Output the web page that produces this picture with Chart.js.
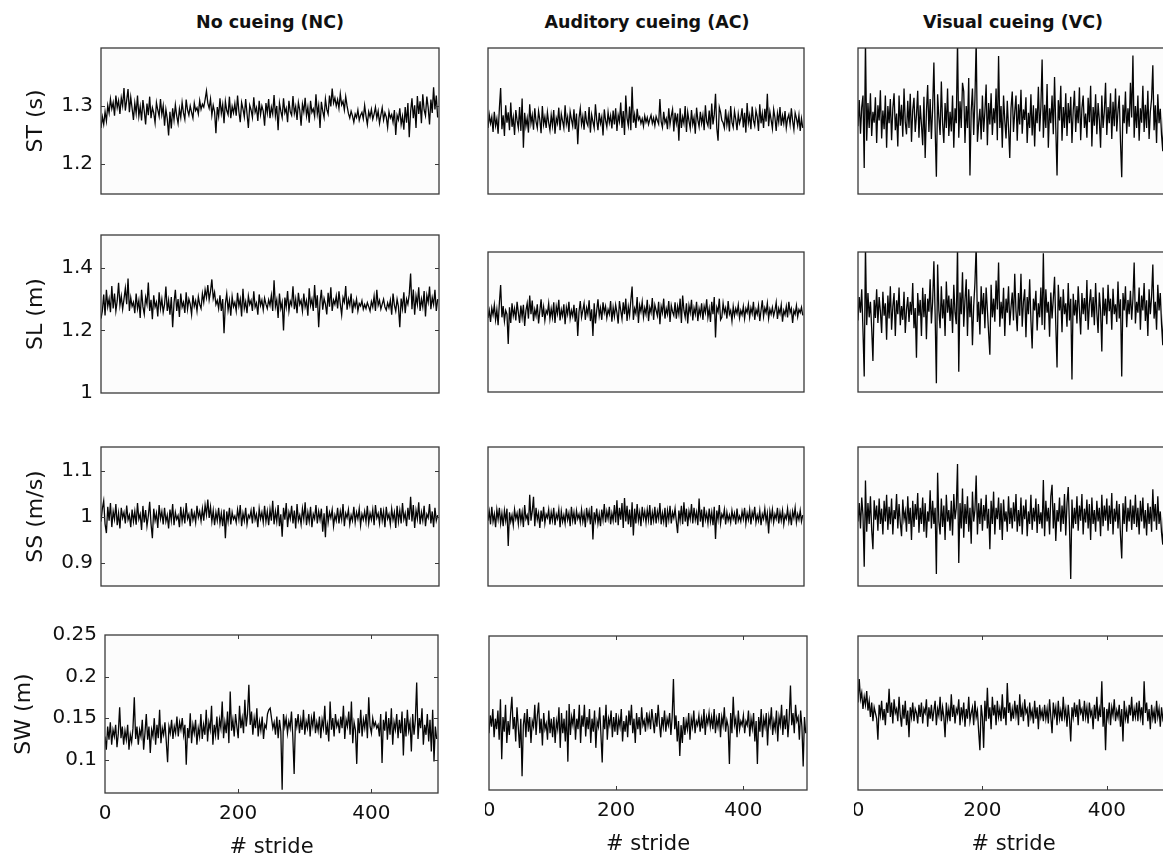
<!DOCTYPE html>
<html>
<head>
<meta charset="utf-8">
<script src="https://cdn.jsdelivr.net/npm/chart.js@4.4.1/dist/chart.umd.min.js"></script>
<style>
  html, body { margin: 0; padding: 0; background: #fff; }
  #page { position: relative; width: 1163px; height: 860px; overflow: hidden; background: #fff; }
  .col-title { position: absolute; top: 12px; line-height: 20px; transform: translateX(-50%);
    font: bold 17.5px "DejaVu Sans", sans-serif; color: #111; white-space: nowrap; }
  canvas { position: absolute; }
</style>
</head>
<body>
<div id="page">
  <div class="col-title" style="left:270px">No cueing (NC)</div>
  <div class="col-title" style="left:647px">Auditory cueing (AC)</div>
  <div class="col-title" style="left:1013px">Visual cueing (VC)</div>
</div>
<script>
'use strict';

// one value read every 2 strides
const STEP = 2;

// ---- stride time (s)
const stNC = [
1.262,1.281,1.268,1.290,1.274,1.301,1.288,1.312,1.295,1.306,1.283,1.318,1.297,1.309,1.286,1.314,1.300,1.331,1.292,1.310,1.329,1.289,1.315,1.296,1.276,
1.305,1.287,1.318,1.282,1.299,1.275,1.310,1.291,1.268,1.304,1.284,1.316,1.279,1.297,1.288,1.271,1.306,1.293,1.282,1.312,1.285,1.300,1.266,1.294,1.278,
1.249,1.290,1.261,1.296,1.276,1.302,1.283,1.270,1.295,1.280,1.306,1.288,1.277,1.311,1.293,1.284,1.300,1.289,1.279,1.305,1.292,1.297,1.286,1.309,1.294,
1.303,1.298,1.311,1.326,1.305,1.296,1.312,1.284,1.301,1.290,1.253,1.298,1.282,1.313,1.287,1.302,1.270,1.308,1.292,1.285,1.316,1.279,1.299,1.288,1.304,
1.283,1.318,1.290,1.272,1.306,1.295,1.281,1.312,1.287,1.262,1.301,1.293,1.280,1.315,1.289,1.297,1.274,1.309,1.285,1.300,1.291,1.266,1.305,1.288,1.312,
1.279,1.298,1.286,1.319,1.283,1.300,1.258,1.305,1.291,1.280,1.313,1.288,1.296,1.272,1.309,1.290,1.284,1.317,1.287,1.299,1.276,1.306,1.293,1.266,1.303,
1.290,1.314,1.283,1.298,1.271,1.309,1.289,1.295,1.282,1.320,1.286,1.301,1.262,1.307,1.291,1.280,1.312,1.294,1.286,1.318,1.299,1.330,1.305,1.314,1.300,
1.311,1.296,1.321,1.302,1.308,1.293,1.316,1.300,1.287,1.279,1.291,1.283,1.272,1.286,1.280,1.293,1.275,1.284,1.289,1.278,1.301,1.283,1.268,1.290,1.281,
1.294,1.277,1.286,1.298,1.279,1.291,1.270,1.284,1.297,1.276,1.288,1.281,1.263,1.290,1.279,1.285,1.272,1.293,1.250,1.284,1.276,1.296,1.268,1.282,1.259,
1.298,1.271,1.305,1.246,1.290,1.313,1.279,1.301,1.262,1.317,1.286,1.308,1.270,1.320,1.293,1.283,1.316,1.297,1.268,1.311,1.288,1.332,1.294,1.318,1.280
];
const stAC = [
1.262,1.285,1.270,1.281,1.255,1.290,1.266,1.278,1.252,1.296,1.331,1.260,1.284,1.248,1.301,1.271,1.289,1.258,1.306,1.264,1.280,1.250,1.293,1.275,1.262,
1.298,1.257,1.313,1.228,1.288,1.265,1.279,1.254,1.303,1.270,1.284,1.259,1.296,1.273,1.262,1.291,1.276,1.253,1.300,1.268,1.281,1.262,1.289,1.271,1.258,
1.284,1.266,1.293,1.252,1.279,1.270,1.297,1.258,1.286,1.274,1.262,1.301,1.269,1.281,1.255,1.290,1.277,1.265,1.294,1.260,1.287,1.234,1.279,1.296,1.268,
1.282,1.259,1.291,1.272,1.266,1.298,1.254,1.285,1.273,1.262,1.303,1.276,1.258,1.288,1.270,1.281,1.249,1.294,1.275,1.264,1.289,1.271,1.283,1.261,1.292,
1.268,1.296,1.257,1.284,1.273,1.306,1.262,1.291,1.250,1.318,1.279,1.266,1.299,1.258,1.333,1.271,1.285,1.262,1.295,1.276,1.281,1.270,1.278,1.265,1.283,
1.272,1.280,1.268,1.277,1.284,1.270,1.279,1.266,1.282,1.275,1.269,1.312,1.273,1.263,1.290,1.271,1.278,1.260,1.296,1.268,1.283,1.294,1.256,1.288,1.270,
1.287,1.240,1.296,1.262,1.281,1.270,1.300,1.255,1.289,1.274,1.261,1.293,1.268,1.280,1.252,1.297,1.276,1.264,1.290,1.270,1.284,1.258,1.301,1.273,1.266,
1.292,1.260,1.304,1.268,1.285,1.321,1.262,1.240,1.298,1.289,1.275,1.271,1.262,1.294,1.267,1.283,1.256,1.300,1.272,1.263,1.291,1.277,1.258,1.286,1.270,
1.279,1.296,1.263,1.288,1.254,1.305,1.271,1.284,1.260,1.299,1.275,1.266,1.292,1.281,1.257,1.303,1.270,1.287,1.262,1.295,1.273,1.321,1.265,1.290,1.276,
1.261,1.294,1.280,1.257,1.287,1.272,1.298,1.266,1.283,1.270,1.291,1.262,1.278,1.285,1.268,1.296,1.274,1.259,1.288,1.279,1.266,1.284,1.257,1.278,1.262
];
const stVC = [
1.265,1.310,1.252,1.298,1.318,1.193,1.412,1.240,1.305,1.262,1.322,1.248,1.290,1.271,1.315,1.236,1.301,1.275,1.327,1.244,1.292,1.260,1.318,1.228,1.300,
1.270,1.312,1.241,1.296,1.322,1.258,1.287,1.230,1.318,1.266,1.302,1.247,1.330,1.272,1.251,1.309,1.262,1.321,1.238,1.293,1.314,1.255,1.284,1.326,1.245,
1.301,1.268,1.232,1.316,1.210,1.290,1.336,1.255,1.312,1.243,1.296,1.375,1.262,1.178,1.320,1.281,1.250,1.342,1.270,1.236,1.305,1.262,1.330,1.248,1.290,
1.256,1.318,1.228,1.296,1.270,1.412,1.245,1.308,1.262,1.340,1.325,1.236,1.300,1.262,1.348,1.180,1.291,1.330,1.250,1.312,1.412,1.238,1.270,1.295,1.242,
1.318,1.255,1.290,1.337,1.232,1.305,1.268,1.322,1.250,1.296,1.270,1.330,1.241,1.386,1.262,1.300,1.228,1.318,1.275,1.244,1.309,1.262,1.210,1.296,1.325,
1.255,1.290,1.318,1.240,1.303,1.268,1.328,1.252,1.294,1.276,1.315,1.236,1.288,1.262,1.320,1.249,1.301,1.230,1.296,1.270,1.333,1.256,1.298,1.380,1.245,
1.302,1.262,1.338,1.228,1.296,1.270,1.318,1.251,1.350,1.262,1.180,1.310,1.275,1.335,1.240,1.298,1.262,1.322,1.248,1.305,1.270,1.316,1.236,1.292,1.326,
1.255,1.300,1.270,1.332,1.241,1.296,1.318,1.262,1.287,1.245,1.314,1.272,1.335,1.230,1.298,1.266,1.320,1.251,1.305,1.276,1.228,1.318,1.262,1.290,1.340,
1.250,1.298,1.270,1.322,1.243,1.307,1.265,1.330,1.256,1.292,1.318,1.238,1.177,1.302,1.270,1.325,1.252,1.296,1.264,1.340,1.280,1.387,1.245,1.300,1.262,
1.318,1.240,1.296,1.271,1.335,1.255,1.302,1.262,1.326,1.243,1.290,1.312,1.370,1.258,1.301,1.236,1.320,1.270,1.295,1.250,1.222,1.308,1.262,1.285,1.300
];

// ---- stride length (m)
const slNC = [
1.238,1.262,1.315,1.248,1.330,1.276,1.301,1.258,1.342,1.270,1.318,1.262,1.295,1.352,1.280,1.310,1.268,1.300,1.335,1.284,1.366,1.262,1.305,1.277,1.290,
1.255,1.318,1.270,1.296,1.240,1.330,1.276,1.252,1.306,1.284,1.353,1.262,1.298,1.236,1.312,1.275,1.290,1.245,1.322,1.270,1.300,1.258,1.283,1.340,1.262,
1.296,1.250,1.307,1.210,1.288,1.330,1.262,1.300,1.243,1.318,1.275,1.290,1.256,1.322,1.268,1.300,1.284,1.251,1.312,1.277,1.295,1.262,1.308,1.283,1.270,
1.318,1.290,1.330,1.305,1.345,1.298,1.325,1.363,1.302,1.322,1.283,1.296,1.270,1.312,1.262,1.300,1.191,1.286,1.318,1.265,1.295,1.247,1.308,1.276,1.290,
1.262,1.320,1.278,1.300,1.245,1.333,1.270,1.292,1.255,1.310,1.283,1.296,1.262,1.325,1.275,1.288,1.250,1.315,1.280,1.297,1.266,1.303,1.284,1.270,1.298,
1.280,1.312,1.262,1.360,1.276,1.298,1.240,1.318,1.270,1.290,1.200,1.305,1.275,1.326,1.262,1.294,1.281,1.341,1.268,1.300,1.255,1.320,1.283,1.296,1.262,
1.318,1.275,1.295,1.247,1.335,1.280,1.300,1.262,1.345,1.272,1.312,1.210,1.290,1.330,1.266,1.302,1.284,1.251,1.320,1.276,1.338,1.262,1.297,1.283,1.310,
1.270,1.325,1.284,1.250,1.305,1.290,1.342,1.266,1.300,1.280,1.318,1.255,1.292,1.275,1.300,1.262,1.286,1.278,1.295,1.268,1.283,1.270,1.289,1.276,1.262,
1.292,1.275,1.310,1.262,1.330,1.280,1.296,1.268,1.284,1.300,1.275,1.265,1.288,1.272,1.296,1.250,1.318,1.281,1.262,1.300,1.276,1.210,1.302,1.270,1.322,
1.255,1.300,1.284,1.316,1.382,1.268,1.331,1.250,1.310,1.283,1.338,1.262,1.300,1.275,1.326,1.245,1.312,1.290,1.340,1.268,1.305,1.283,1.330,1.262,1.300
];
const slAC = [
1.238,1.262,1.225,1.270,1.248,1.280,1.232,1.265,1.215,1.286,1.344,1.240,1.276,1.228,1.262,1.250,1.154,1.272,1.222,1.285,1.245,1.268,1.230,1.290,1.255,
1.222,1.278,1.240,1.280,1.212,1.262,1.285,1.236,1.310,1.250,1.294,1.228,1.265,1.245,1.282,1.220,1.260,1.298,1.241,1.273,1.230,1.262,1.252,1.285,1.235,
1.268,1.240,1.288,1.222,1.275,1.252,1.296,1.230,1.265,1.245,1.282,1.218,1.272,1.250,1.290,1.236,1.262,1.244,1.280,1.226,1.270,1.180,1.258,1.292,1.240,
1.262,1.285,1.232,1.270,1.250,1.295,1.228,1.266,1.180,1.285,1.220,1.262,1.298,1.245,1.270,1.232,1.288,1.255,1.275,1.238,1.265,1.250,1.292,1.226,1.272,
1.243,1.280,1.255,1.220,1.292,1.262,1.235,1.288,1.250,1.300,1.228,1.274,1.246,1.295,1.339,1.232,1.268,1.252,1.305,1.222,1.278,1.258,1.290,1.240,1.270,
1.250,1.296,1.228,1.272,1.255,1.302,1.232,1.280,1.262,1.245,1.290,1.218,1.275,1.255,1.300,1.236,1.268,1.250,1.292,1.225,1.278,1.258,1.246,1.288,1.236,
1.275,1.250,1.300,1.222,1.310,1.262,1.240,1.285,1.220,1.278,1.255,1.296,1.230,1.270,1.250,1.290,1.228,1.268,1.248,1.285,1.232,1.275,1.255,1.298,1.240,
1.268,1.225,1.290,1.250,1.305,1.175,1.272,1.258,1.300,1.232,1.240,1.285,1.255,1.270,1.236,1.292,1.250,1.262,1.228,1.275,1.245,1.268,1.252,1.280,1.238,
1.262,1.248,1.275,1.236,1.268,1.255,1.282,1.240,1.270,1.252,1.290,1.232,1.265,1.250,1.278,1.228,1.262,1.295,1.242,1.270,1.255,1.285,1.236,1.266,1.250,
1.272,1.245,1.262,1.288,1.235,1.268,1.252,1.280,1.226,1.262,1.248,1.275,1.240,1.290,1.255,1.268,1.222,1.262,1.250,1.278,1.242,1.265,1.255,1.272,1.246
];
const slVC = [
1.230,1.305,1.255,1.330,1.198,1.050,1.470,1.215,1.318,1.240,1.290,1.205,1.100,1.296,1.238,1.330,1.222,1.305,1.260,1.190,1.322,1.245,1.285,1.168,1.310,
1.236,1.340,1.200,1.275,1.318,1.180,1.295,1.250,1.336,1.215,1.276,1.232,1.322,1.190,1.265,1.305,1.225,1.290,1.248,1.350,1.205,1.270,1.110,1.318,1.245,
1.296,1.180,1.335,1.240,1.315,1.170,1.300,1.258,1.362,1.220,1.290,1.420,1.250,1.028,1.410,1.262,1.205,1.340,1.236,1.298,1.180,1.355,1.255,1.310,1.228,
1.300,1.190,1.345,1.255,1.218,1.470,1.065,1.320,1.250,1.385,1.210,1.296,1.362,1.180,1.330,1.240,1.308,1.150,1.276,1.350,1.470,1.225,1.290,1.185,1.340,
1.250,1.318,1.205,1.336,1.265,1.190,1.120,1.345,1.240,1.300,1.226,1.358,1.265,1.416,1.210,1.290,1.236,1.335,1.180,1.300,1.255,1.340,1.215,1.272,1.320,
1.230,1.380,1.260,1.195,1.318,1.245,1.380,1.210,1.290,1.330,1.176,1.305,1.250,1.362,1.230,1.140,1.300,1.262,1.325,1.198,1.285,1.240,1.336,1.215,1.446,
1.200,1.330,1.255,1.290,1.178,1.320,1.236,1.300,1.370,1.215,1.079,1.345,1.262,1.306,1.192,1.330,1.250,1.285,1.210,1.350,1.230,1.300,1.040,1.316,1.246,
1.296,1.220,1.340,1.262,1.185,1.318,1.250,1.302,1.228,1.360,1.200,1.282,1.330,1.240,1.305,1.215,1.350,1.255,1.190,1.320,1.262,1.130,1.336,1.245,1.300,
1.218,1.345,1.260,1.300,1.200,1.332,1.250,1.282,1.225,1.355,1.236,1.298,1.050,1.318,1.262,1.340,1.208,1.296,1.250,1.325,1.232,1.300,1.416,1.220,1.290,
1.255,1.336,1.200,1.310,1.262,1.350,1.228,1.295,1.180,1.330,1.250,1.306,1.410,1.236,1.290,1.200,1.345,1.262,1.318,1.218,1.150,1.300,1.250,1.330,1.240
];

// ---- stride speed (m/s)
const ssNC = [
0.990,1.018,1.035,0.985,0.965,1.022,0.992,1.030,0.978,1.012,0.995,1.028,0.982,1.008,0.975,1.020,0.998,1.010,0.986,1.025,0.994,1.004,0.978,1.016,0.990,
1.012,0.983,1.030,0.995,1.006,0.972,1.024,0.988,1.015,0.980,1.002,1.033,0.985,0.954,1.018,0.992,1.008,0.976,1.026,0.996,1.012,0.984,1.020,0.990,1.004,
0.975,1.016,0.992,1.028,0.982,1.010,0.995,1.003,0.978,1.022,0.990,1.012,0.986,1.030,0.996,1.006,0.980,1.018,0.994,1.008,0.988,1.024,0.999,1.012,0.991,
1.018,0.992,1.026,1.005,1.038,0.998,1.022,0.990,1.014,0.982,1.010,0.992,1.020,0.986,1.008,0.980,1.016,0.954,1.012,0.990,1.020,0.984,1.010,0.995,1.002,
0.988,1.016,0.995,1.026,0.980,1.008,0.992,1.020,0.984,1.004,0.998,1.014,0.986,1.022,0.994,1.006,0.978,1.018,0.996,1.010,0.988,1.024,0.990,1.012,0.982,
1.016,0.992,1.035,0.984,1.012,0.990,1.026,0.980,1.006,0.957,1.020,0.994,1.030,0.978,1.010,0.996,1.024,0.986,1.014,0.975,1.028,0.992,1.004,0.984,1.018,
0.995,1.032,0.982,1.010,0.990,1.022,0.978,1.006,0.996,1.026,0.986,1.012,0.994,1.018,0.968,1.008,0.956,1.024,0.988,1.010,0.998,1.016,0.980,1.004,0.992,
1.020,0.986,1.012,0.994,1.028,0.980,1.008,0.998,1.016,0.984,1.004,0.992,1.022,0.988,1.010,0.996,1.018,0.982,1.006,0.994,1.012,0.990,1.024,0.986,1.008,
0.994,1.016,0.982,1.026,0.998,1.008,0.986,1.020,0.992,1.012,0.978,1.022,0.996,1.006,0.984,1.018,0.994,1.010,0.976,1.024,0.990,1.014,0.986,1.030,0.995,
1.008,0.980,1.020,0.994,1.044,0.990,1.026,0.976,1.014,0.996,1.032,0.984,1.010,0.992,1.024,0.980,1.006,0.998,1.028,0.986,1.012,0.978,1.020,0.992,1.004
];
const ssAC = [
0.992,1.012,0.984,1.022,0.990,1.006,0.978,1.016,0.995,1.020,0.986,1.008,0.980,1.014,0.992,1.018,0.937,1.010,0.990,1.004,0.982,1.016,0.996,1.008,0.985,
1.018,0.990,1.010,0.978,1.026,0.996,1.004,0.982,1.048,0.992,1.012,1.044,0.980,1.020,0.994,1.008,0.976,1.014,0.990,1.022,0.986,1.006,0.998,1.016,0.984,
1.010,0.992,1.020,0.982,1.006,0.996,1.016,0.978,1.012,0.990,1.004,0.986,1.018,0.994,1.008,0.980,1.022,0.992,1.010,0.984,1.014,0.996,1.006,0.988,1.016,
0.990,1.008,0.978,1.020,0.996,1.012,0.984,1.024,0.951,1.010,0.992,1.018,0.986,1.006,0.980,1.016,0.994,1.028,0.988,1.012,0.996,1.022,0.984,1.008,0.992,
1.026,0.988,1.036,0.982,1.020,0.994,1.030,0.976,1.041,0.990,1.024,0.984,1.016,0.978,1.032,0.960,1.018,0.986,1.028,0.992,1.010,0.980,1.022,0.996,1.012,
0.988,1.016,0.994,1.026,0.982,1.010,0.992,1.022,0.986,1.012,0.996,1.030,0.984,1.008,0.990,1.020,0.978,1.014,0.994,1.024,0.986,1.010,0.998,1.018,0.990,
0.965,1.014,0.992,1.024,0.984,1.032,0.990,1.018,0.980,1.012,0.996,1.028,0.986,1.020,0.994,1.010,0.982,1.040,0.990,1.016,0.978,1.022,0.994,1.008,0.986,
1.018,0.990,1.010,0.982,1.022,0.952,1.014,0.994,1.026,0.986,1.006,0.998,1.016,0.984,1.010,0.992,1.004,0.988,1.014,0.996,1.008,0.984,1.018,0.992,1.002,
0.990,1.012,0.996,1.020,0.986,1.008,0.994,1.016,0.984,1.010,0.998,1.022,0.988,1.004,0.992,1.014,0.982,1.006,0.996,1.018,0.990,1.008,0.964,1.012,0.994,
1.016,0.988,1.006,0.996,1.020,0.986,1.010,0.992,1.014,0.984,1.004,0.996,1.018,0.990,1.008,0.982,1.012,0.998,1.020,0.988,1.006,0.994,1.014,0.990,1.004
];
const ssVC = [
0.990,1.030,0.975,1.042,1.005,0.892,1.079,0.968,1.030,0.985,1.045,0.972,0.930,1.036,0.994,1.025,0.970,1.040,0.985,1.018,0.962,1.035,0.990,1.048,0.972,
1.022,0.984,1.040,0.962,1.015,0.995,1.050,0.975,1.028,0.988,0.958,1.038,0.995,1.012,0.968,1.045,0.985,1.020,0.950,1.035,0.978,1.028,0.994,1.052,0.966,
1.020,0.985,1.042,0.968,1.030,0.955,1.012,0.990,1.058,0.975,1.035,0.985,1.020,0.876,1.096,0.990,0.962,1.040,0.978,1.025,0.950,1.048,0.990,1.015,0.970,
1.035,0.960,1.050,0.995,1.020,1.115,0.900,1.030,0.975,1.062,0.955,1.028,0.985,1.045,0.968,1.020,0.942,1.055,0.990,1.015,1.090,0.962,1.030,0.985,1.040,
0.970,1.026,0.992,1.048,0.975,1.018,0.930,1.035,0.985,1.055,0.962,1.020,0.995,1.042,0.972,1.030,0.950,1.038,0.990,1.012,0.968,1.045,0.985,1.020,0.975,
1.032,0.990,1.050,0.968,1.015,0.980,1.042,0.962,1.025,0.995,1.038,0.958,1.012,0.985,1.048,0.972,1.020,0.990,1.040,0.965,1.028,0.985,1.010,0.975,1.080,
0.958,1.035,0.990,1.020,0.962,1.045,1.070,0.975,1.030,0.948,1.015,0.990,1.042,0.968,1.025,0.985,1.050,0.960,1.030,1.065,0.980,0.865,1.038,0.975,1.020,
0.985,1.045,0.970,1.025,0.992,1.050,0.962,1.018,0.988,1.038,0.975,1.028,0.950,1.042,0.985,1.015,0.968,1.035,0.990,1.020,0.958,1.048,0.980,1.025,0.992,
1.040,0.970,1.025,0.985,1.052,0.962,1.018,0.990,1.035,0.975,1.028,0.960,0.910,1.030,0.985,1.045,0.968,1.020,0.990,1.038,0.972,1.025,0.985,1.048,0.978,
1.020,0.962,1.035,0.990,1.042,0.975,1.015,0.960,1.030,0.985,1.022,0.968,1.060,0.990,1.028,0.972,1.045,0.985,1.012,0.966,0.940,1.030,0.990,1.042,1.000
];

// ---- stride width (m)
const swNC = [
0.128,0.112,0.140,0.124,0.145,0.118,0.136,0.128,0.142,0.115,0.132,0.163,0.126,0.140,0.118,0.135,0.124,0.142,0.112,0.130,0.121,0.138,0.175,0.125,0.140,
0.118,0.136,0.128,0.148,0.112,0.132,0.155,0.124,0.140,0.108,0.136,0.128,0.150,0.118,0.142,0.126,0.160,0.120,0.138,0.130,0.145,0.122,0.097,0.140,0.132,
0.148,0.125,0.140,0.132,0.152,0.128,0.145,0.136,0.150,0.130,0.142,0.094,0.138,0.126,0.156,0.120,0.142,0.132,0.148,0.118,0.138,0.128,0.155,0.125,0.142,
0.130,0.160,0.122,0.145,0.136,0.165,0.118,0.142,0.130,0.152,0.124,0.148,0.138,0.170,0.126,0.145,0.132,0.158,0.120,0.182,0.135,0.148,0.128,0.155,0.140,
0.126,0.165,0.138,0.150,0.132,0.172,0.140,0.155,0.190,0.142,0.158,0.130,0.150,0.138,0.162,0.128,0.146,0.135,0.152,0.125,0.142,0.138,0.155,0.160,0.162,
0.150,0.138,0.145,0.130,0.152,0.126,0.148,0.134,0.064,0.155,0.140,0.150,0.132,0.146,0.138,0.158,0.128,0.083,0.150,0.140,0.155,0.132,0.148,0.136,0.160,
0.130,0.146,0.138,0.155,0.128,0.150,0.140,0.158,0.132,0.145,0.135,0.152,0.126,0.148,0.138,0.165,0.130,0.142,0.122,0.170,0.136,0.150,0.128,0.155,0.140,
0.146,0.132,0.152,0.138,0.165,0.125,0.148,0.140,0.158,0.130,0.170,0.120,0.145,0.136,0.095,0.150,0.132,0.160,0.128,0.148,0.138,0.155,0.126,0.175,0.140,
0.132,0.150,0.140,0.145,0.138,0.142,0.128,0.155,0.096,0.148,0.135,0.158,0.124,0.150,0.130,0.162,0.118,0.145,0.136,0.155,0.126,0.148,0.132,0.158,0.105,
0.150,0.128,0.160,0.135,0.145,0.110,0.155,0.130,0.148,0.193,0.125,0.150,0.138,0.162,0.118,0.142,0.130,0.155,0.122,0.148,0.110,0.160,0.098,0.140,0.125
];
const swAC = [
0.130,0.152,0.138,0.160,0.125,0.148,0.135,0.158,0.122,0.172,0.098,0.150,0.132,0.165,0.118,0.145,0.128,0.155,0.175,0.135,0.150,0.120,0.162,0.138,0.112,
0.148,0.077,0.140,0.155,0.125,0.160,0.132,0.150,0.118,0.145,0.138,0.165,0.128,0.152,0.168,0.130,0.148,0.115,0.155,0.135,0.142,0.122,0.158,0.130,0.148,
0.125,0.150,0.118,0.145,0.135,0.162,0.112,0.155,0.130,0.148,0.120,0.158,0.095,0.166,0.128,0.150,0.140,0.160,0.122,0.148,0.135,0.165,0.118,0.152,0.138,
0.165,0.126,0.150,0.135,0.160,0.118,0.148,0.132,0.158,0.112,0.145,0.138,0.162,0.128,0.094,0.152,0.135,0.165,0.122,0.148,0.140,0.158,0.125,0.150,0.132,
0.155,0.128,0.148,0.138,0.160,0.120,0.145,0.132,0.152,0.125,0.158,0.140,0.165,0.130,0.148,0.118,0.155,0.135,0.150,0.128,0.162,0.140,0.146,0.132,0.156,
0.140,0.152,0.135,0.160,0.145,0.130,0.155,0.138,0.165,0.142,0.125,0.150,0.138,0.158,0.132,0.148,0.140,0.155,0.128,0.150,0.197,0.135,0.152,0.120,0.145,
0.102,0.140,0.118,0.150,0.128,0.145,0.135,0.155,0.122,0.148,0.138,0.158,0.130,0.145,0.140,0.152,0.132,0.148,0.136,0.160,0.128,0.150,0.142,0.155,0.138,
0.150,0.135,0.160,0.130,0.148,0.138,0.155,0.125,0.150,0.140,0.162,0.132,0.146,0.138,0.092,0.155,0.130,0.175,0.140,0.148,0.125,0.158,0.135,0.145,0.140,
0.152,0.130,0.145,0.140,0.158,0.126,0.148,0.136,0.155,0.120,0.145,0.092,0.150,0.132,0.160,0.125,0.148,0.138,0.155,0.115,0.150,0.140,0.162,0.128,0.145,
0.135,0.158,0.120,0.150,0.140,0.165,0.128,0.152,0.135,0.160,0.125,0.148,0.189,0.140,0.155,0.130,0.165,0.145,0.150,0.122,0.158,0.138,0.089,0.150,0.130
];
const swVC = [
0.168,0.197,0.172,0.180,0.160,0.175,0.165,0.182,0.158,0.170,0.150,0.168,0.145,0.162,0.155,0.148,0.122,0.165,0.152,0.170,0.146,0.160,0.140,0.168,0.155,
0.185,0.150,0.168,0.142,0.172,0.155,0.160,0.145,0.175,0.152,0.138,0.165,0.148,0.170,0.140,0.158,0.125,0.162,0.150,0.168,0.145,0.160,0.155,0.142,0.165,
0.150,0.168,0.142,0.160,0.155,0.172,0.138,0.162,0.148,0.165,0.145,0.158,0.170,0.140,0.160,0.152,0.175,0.145,0.162,0.150,0.125,0.168,0.148,0.160,0.145,
0.178,0.150,0.165,0.142,0.160,0.155,0.172,0.140,0.162,0.150,0.168,0.138,0.160,0.148,0.175,0.145,0.155,0.162,0.140,0.170,0.150,0.158,0.132,0.109,0.165,
0.150,0.112,0.170,0.145,0.186,0.148,0.162,0.135,0.175,0.152,0.165,0.140,0.170,0.150,0.160,0.145,0.178,0.148,0.162,0.140,0.192,0.155,0.168,0.145,0.160,
0.148,0.170,0.152,0.165,0.140,0.178,0.150,0.162,0.145,0.172,0.155,0.160,0.138,0.168,0.150,0.158,0.142,0.170,0.148,0.162,0.135,0.165,0.150,0.158,0.145,
0.165,0.148,0.160,0.142,0.172,0.150,0.130,0.168,0.152,0.162,0.140,0.170,0.148,0.158,0.145,0.175,0.150,0.160,0.138,0.165,0.148,0.120,0.162,0.150,0.168,
0.150,0.165,0.140,0.172,0.155,0.160,0.145,0.170,0.150,0.162,0.142,0.168,0.152,0.158,0.135,0.165,0.148,0.175,0.145,0.160,0.150,0.194,0.138,0.162,0.109,
0.160,0.148,0.168,0.140,0.162,0.152,0.172,0.145,0.158,0.150,0.165,0.138,0.160,0.120,0.170,0.148,0.158,0.142,0.165,0.152,0.175,0.145,0.160,0.150,0.168,
0.145,0.170,0.150,0.162,0.140,0.194,0.155,0.168,0.145,0.160,0.135,0.165,0.148,0.158,0.142,0.170,0.150,0.160,0.138,0.162,0.148,0.155,0.130,0.160,0.145
];

// axis ticks / ranges
const strideRange = [0, 500];
const strideTicks = [0, 200, 400];
const stRange = [1.148, 1.4];   const stTicks = [1.2, 1.3];
const slRange = [1, 1.505];     const slTicks = [1, 1.2, 1.4];
const slRangeCue = [1, 1.45];
const ssRange = [0.85, 1.152];  const ssTicks = [0.9, 1, 1.1];
const swRange = [0.06, 0.25];   const swTicks = [0.1, 0.15, 0.2, 0.25];

Chart.defaults.font.family = '"DejaVu Sans", sans-serif';
Chart.defaults.color = '#111';

// plot box on the page: [left, top, width, height]
const panels = [
  { values: stNC, box: [101, 48, 338, 146], range: stRange, yTicks: stTicks, label: 'ST (s)', labelPad: 22 },
  { values: stAC, box: [488, 48, 316, 146], range: stRange },
  { values: stVC, box: [858, 48, 311, 146], range: stRange },
  { values: slNC, box: [101, 235, 338, 158], range: slRange, yTicks: slTicks, label: 'SL (m)', labelPad: 22 },
  { values: slAC, box: [488, 252, 316, 140], range: slRangeCue },
  { values: slVC, box: [858, 252, 311, 140], range: slRangeCue },
  { values: ssNC, box: [101, 447, 338, 139], range: ssRange, yTicks: ssTicks, label: 'SS (m/s)', labelPad: 22 },
  { values: ssAC, box: [488, 447, 316, 139], range: ssRange },
  { values: ssVC, box: [858, 447, 311, 139], range: ssRange },
  { values: swNC, box: [105, 635, 333, 158], range: swRange, yTicks: swTicks, label: 'SW (m)', labelPad: 6, xAxis: true },
  { values: swAC, box: [489, 636, 318, 154], range: swRange, xAxis: true },
  { values: swVC, box: [858, 636, 311, 154], range: swRange, xAxis: true }
];

const Y_AXIS_W = 100, X_AXIS_H = 67, PAD_X = 4, PAD_Y = 14, TICK_LEN = 4;

// matlab-like box with inward ticks
const framePlugin = {
  id: 'frame',
  beforeDatasetsDraw(chart) {
    const { ctx, chartArea: a } = chart;
    ctx.save();
    ctx.fillStyle = '#fcfcfc';
    ctx.fillRect(a.left, a.top, a.right - a.left, a.bottom - a.top);
    ctx.restore();
  },
  afterDraw(chart, args, opts) {
    const { ctx, chartArea: a, scales } = chart;
    ctx.save();
    ctx.strokeStyle = '#3a3a3a';
    ctx.lineWidth = 1.3;
    ctx.strokeRect(a.left, a.top, a.right - a.left, a.bottom - a.top);
    ctx.lineWidth = 1;
    ctx.beginPath();
    (opts.yTicks || []).forEach(v => {
      const y = Math.round(scales.y.getPixelForValue(v)) + 0.5;
      if (y < a.top + 2 || y > a.bottom - 2) return;
      ctx.moveTo(a.left, y); ctx.lineTo(a.left + TICK_LEN, y);
      ctx.moveTo(a.right, y); ctx.lineTo(a.right - TICK_LEN, y);
    });
    (opts.xTicks || []).forEach(v => {
      const x = Math.round(scales.x.getPixelForValue(v)) + 0.5;
      if (x < a.left + 2 || x > a.right - 2) return;
      ctx.moveTo(x, a.bottom); ctx.lineTo(x, a.bottom - TICK_LEN);
      ctx.moveTo(x, a.top); ctx.lineTo(x, a.top + TICK_LEN);
    });
    ctx.stroke();
    ctx.restore();
  }
};

const fmt = v => String(+(+v).toFixed(3));
const page = document.getElementById('page');

panels.forEach(p => {
  const [px, py, pw, ph] = p.box;
  const leftW = p.yTicks ? Y_AXIS_W : 0;
  const bottomH = p.xAxis ? X_AXIS_H : 0;
  const padBottom = p.xAxis ? 0 : PAD_Y;
  const w = PAD_X + leftW + pw + PAD_X;
  const h = PAD_Y + ph + bottomH + padBottom;
  const cv = document.createElement('canvas');
  cv.width = w; cv.height = h;
  cv.style.width = w + 'px'; cv.style.height = h + 'px';
  cv.style.left = (px - leftW - PAD_X) + 'px';
  cv.style.top = (py - PAD_Y) + 'px';
  page.appendChild(cv);

  const points = p.values.map((v, i) => ({ x: i * STEP, y: v }));

  new Chart(cv, {
    type: 'line',
    data: {
      datasets: [{
        data: points,
        borderColor: '#050505',
        borderWidth: 1.3,
        pointRadius: 0,
        tension: 0,
        fill: false
      }]
    },
    options: {
      responsive: false,
      animation: false,
      parsing: false,
      normalized: true,
      layout: { padding: { left: PAD_X, right: PAD_X, top: PAD_Y, bottom: padBottom } },
      plugins: {
        legend: { display: false },
        tooltip: { enabled: false },
        frame: { yTicks: p.yTicks, xTicks: p.xAxis ? strideTicks : null }
      },
      scales: {
        x: {
          type: 'linear',
          display: !!p.xAxis,
          min: strideRange[0], max: strideRange[1],
          afterBuildTicks: s => { s.ticks = strideTicks.map(v => ({ value: v })); },
          afterFit: s => {
            s.paddingLeft = 0; s.paddingRight = 0;
            s.height = p.xAxis ? X_AXIS_H : 0;
          },
          grid: { display: false, drawTicks: false },
          border: { display: false },
          ticks: { autoSkip: false, maxRotation: 0, padding: 9, font: { size: 20 }, color: '#111', callback: v => String(v) },
          title: { display: true, text: '# stride', font: { size: 21 }, color: '#111', padding: { top: 0, bottom: 0 } }
        },
        y: {
          type: 'linear',
          display: !!p.yTicks,
          min: p.range[0], max: p.range[1],
          afterBuildTicks: s => { if (p.yTicks) s.ticks = p.yTicks.map(v => ({ value: v })); },
          afterFit: s => {
            s.paddingTop = 0; s.paddingBottom = 0;
            s.width = p.yTicks ? Y_AXIS_W : 0;
          },
          grid: { display: false, drawTicks: false },
          border: { display: false },
          ticks: { autoSkip: false, padding: 8, font: { size: 20 }, color: '#111', callback: fmt },
          title: { display: !!p.label, text: p.label || '', font: { size: 22 }, color: '#111',
                   padding: { top: p.labelPad || 0, bottom: 0 } }
        }
      }
    },
    plugins: [framePlugin]
  });
});
</script>
</body>
</html>
